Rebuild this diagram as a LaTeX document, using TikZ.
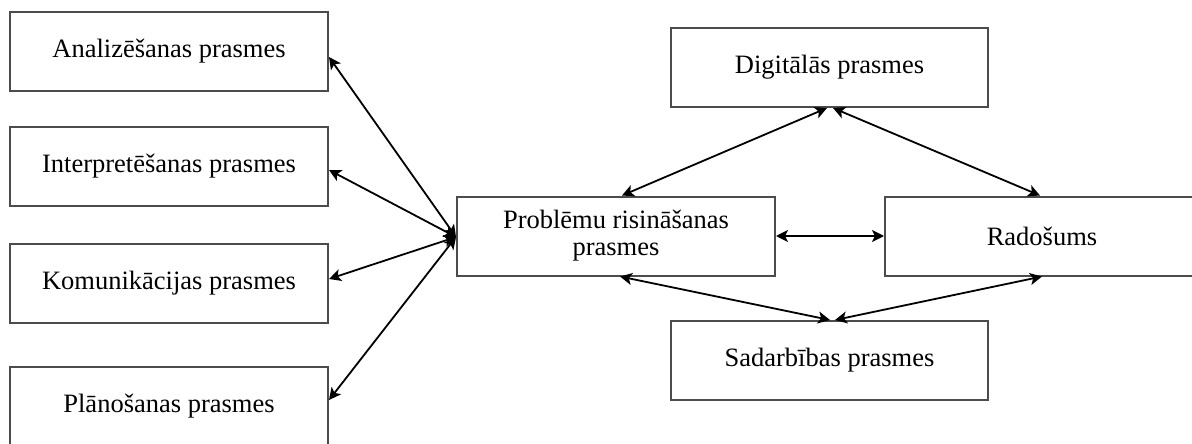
\documentclass[tikz,border=0pt]{standalone}
\usepackage{fontspec}
\setmainfont{Liberation Serif}
\usetikzlibrary{arrows.meta}
\begin{document}
\begin{tikzpicture}[x=1pt,y=-1pt,
  skill/.style={draw=black!70, line width=2pt, fill=white,
    minimum width=318pt, minimum height=79pt, inner sep=0pt,
    align=center, font=\fontsize{26.5}{27}\selectfont},
  link/.style={line width=1.8pt,
    {Stealth[length=12pt,width=12pt,inset=3pt]}-{Stealth[length=12pt,width=12pt,inset=3pt]}}]
\useasboundingbox (0,0) rectangle (1192,444);
\clip (0,0) rectangle (1192,444);

% skill groups on the left
\node[skill] (ana) at (169,51.5) {Analizēšanas prasmes};
\node[skill] (int) at (169,166) {Interpretēšanas prasmes};
\node[skill] (kom) at (169,283) {Komunikācijas prasmes};
\node[skill] (pla) at (169,406.5) {Plānošanas prasmes};

% central skill and its neighbours
\node[skill] (pro) at (616,236) {Problēmu risināšanas\\prasmes};
\node[skill, minimum width=317pt] (dig) at (829.5,67.5) {Digitālās prasmes};
\node[skill, minimum width=314pt] (rad) at (1042,236) {Radošums};
\node[skill, minimum width=317pt] (sad) at (829.5,360.5) {Sadarbības prasmes};

% links from the left column
\draw[link] ([yshift=-5.5pt]ana.east) -- ([yshift=-1pt]pro.west);
\draw[link] ([yshift=-4pt]int.east) -- ([yshift=-1pt]pro.west);
\draw[link] ([yshift=4pt]kom.east) -- ([yshift=-1pt]pro.west);
\draw[link] ([yshift=6.5pt]pla.east) -- ([yshift=-1pt]pro.west);

% links on the right
\draw[link] (pro.east) -- (rad.west);
\draw[link] ([xshift=6pt]pro.north) -- ([xshift=-2.5pt]dig.south);
\draw[link] ([xshift=3.5pt]dig.south) -- ([xshift=-2pt]rad.north);
\draw[link] ([xshift=4pt]pro.south) -- ([xshift=0.5pt]sad.north);
\draw[link] (rad.south) -- ([xshift=5.5pt]sad.north);
\end{tikzpicture}
\end{document}
